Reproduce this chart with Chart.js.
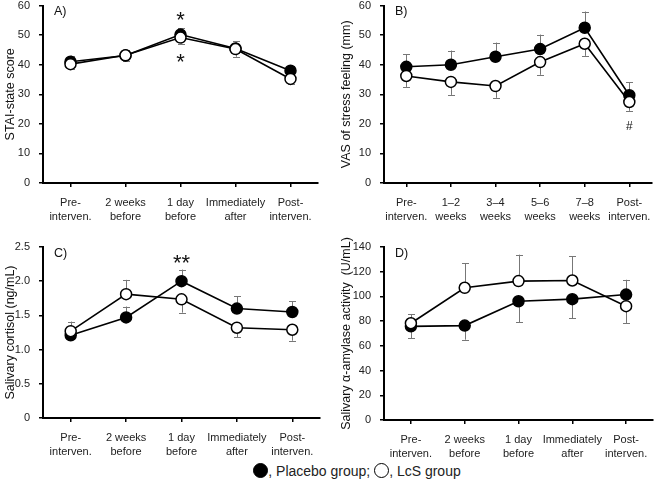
<!DOCTYPE html>
<html>
<head>
<meta charset="utf-8">
<script src="https://cdn.jsdelivr.net/npm/chart.js@4.4.0/dist/chart.umd.min.js"></script>
<style>
  body { margin: 0; background: #fff; }
  #wrap { position: relative; width: 660px; height: 484px; overflow: hidden; }
  canvas { position: absolute; }
  #legend { position: absolute; left: 54px; top: 463px; width: 606px; text-align: center;
    font: 14px "Liberation Sans", Arial, sans-serif; color: #222; }
  .dot { display: inline-block; width: 13px; height: 13px; border-radius: 50%;
    border: 1.5px solid #000; vertical-align: -2px; }
</style>
</head>
<body>
<div id="wrap">
  <canvas id="chartA" width="330" height="232" style="left:0;top:-10px"></canvas>
  <canvas id="chartB" width="330" height="232" style="left:330px;top:-10px"></canvas>
  <canvas id="chartC" width="330" height="230" style="left:0;top:230px"></canvas>
  <canvas id="chartD" width="330" height="230" style="left:330px;top:230px"></canvas>
  <div id="legend"><span class="dot" style="background:#000"></span>, Placebo group; <span class="dot" style="background:#fff"></span>, LcS group</div>
</div>
<script>
// categories
var labels5 = [['Pre-', 'interven.'], ['2 weeks', 'before'], ['1 day', 'before'], ['Immediately', 'after'], ['Post-', 'interven.']];
var labels6 = [['Pre-', 'interven.'], ['1\u20132', 'weeks'], ['3\u20134', 'weeks'], ['5\u20136', 'weeks'], ['7\u20138', 'weeks'], ['Post-', 'interven.']];

// A) STAI-state score
var staiPlacebo = [41.0, 43.1, 50.2, 45.5, 38.0];
var staiLcs = [40.2, 43.2, 49.2, 45.3, 35.2];
var staiPlaceboBar = [43.1, 45.1, 52.4, 47.9, 39.5];
var staiLcsBar = [38.5, 41.2, 47.1, 42.7, 33.4];

// B) VAS of stress feeling
var vasPlacebo = [39.3, 40.0, 42.7, 45.3, 52.5, 29.7];
var vasLcs = [36.2, 34.2, 32.8, 40.9, 47.1, 27.4];
var vasPlaceboBar = [43.5, 44.8, 47.5, 50.2, 58.0, 34.0];
var vasLcsBar = [32.5, 29.8, 28.8, 36.6, 43.0, 24.4];

// C) Salivary cortisol
var cortPlacebo = [1.21, 1.47, 2.00, 1.60, 1.55];
var cortLcs = [1.27, 1.81, 1.735, 1.32, 1.29];
var cortPlaceboBar = [null, 1.63, 2.17, 1.78, 1.71];
var cortLcsBar = [1.41, 2.02, 1.54, 1.18, 1.13];

// D) Salivary alpha-amylase
var amyPlacebo = [75.8, 76.4, 96.1, 97.8, 101.5];
var amyLcs = [78.3, 107.0, 112.4, 112.9, 92.1];
var amyPlaceboBar = [66.3, 65.0, 79.3, 82.3, 113.5];
var amyLcsBar = [85.8, 127.0, 133.8, 132.4, 78.5];

// significance marks: [category index, value, text]
var staiNotes = [[2, 56.3, '*'], [2, 41.8, '*']];
var vasNotes = [[5, 19.0, '#']];
var cortNotes = [[2, 2.31, '**']];

var FONT = '"Liberation Sans", Arial, sans-serif';

var errorBars = {
	id: 'errorBars',
	beforeDatasetsDraw: (chart) => {
		var ctx = chart.ctx;
		var x = chart.scales.x, y = chart.scales.y;
		ctx.save();
		ctx.strokeStyle = '#777';
		ctx.lineWidth = 1;
		chart.data.datasets.forEach(ds => {
			ds.data.forEach((v, i) => {
				var b = ds.bars[i];
				if (b === null || b === undefined) return;
				var px = Math.round(x.getPixelForValue(i)) + 0.5;
				var y0 = y.getPixelForValue(v), y1 = y.getPixelForValue(b);
				ctx.beginPath();
				ctx.moveTo(px, y0);
				ctx.lineTo(px, y1);
				ctx.moveTo(px - 3.5, Math.round(y1) + 0.5);
				ctx.lineTo(px + 3.5, Math.round(y1) + 0.5);
				ctx.stroke();
			});
		});
		ctx.restore();
	}
};

var marks = {
	id: 'marks',
	afterDatasetsDraw: (chart, args, opts) => {
		var ctx = chart.ctx;
		ctx.save();
		ctx.fillStyle = '#111';
		ctx.textAlign = 'left';
		ctx.textBaseline = 'top';
		ctx.font = '12.5px ' + FONT;
		ctx.fillText(opts.tag, chart.chartArea.left + 11, chart.chartArea.top);
		ctx.textAlign = 'center';
		ctx.textBaseline = 'middle';
		(opts.notes || []).forEach(n => {
			ctx.font = (n[2] === '#' ? '12px ' : '22px ') + FONT;
			var px = chart.scales.x.getPixelForValue(n[0]);
			var py = chart.scales.y.getPixelForValue(n[1]);
			ctx.fillText(n[2], px, py + (n[2] === '#' ? 0 : 4));
		});
		ctx.restore();
	}
};

window.makePanel = (id, cfg) => {
	var axisGrid = { drawOnChartArea: false, drawTicks: true, tickLength: 4, color: '#000', lineWidth: 1.5, offset: false };
	new Chart(document.getElementById(id).getContext('2d'), {
		type: 'line',
		data: {
			labels: cfg.labels,
			datasets: [
				{ label: 'Placebo group', data: cfg.placebo, bars: cfg.placeboBar, order: 2,
				  borderColor: '#000', borderWidth: 1.6, pointRadius: 5.5, pointBorderWidth: 1.5,
				  pointBackgroundColor: '#000', pointBorderColor: '#000', tension: 0 },
				{ label: 'LcS group', data: cfg.lcs, bars: cfg.lcsBar, order: 1,
				  borderColor: '#000', borderWidth: 1.6, pointRadius: 5.5, pointBorderWidth: 1.5,
				  pointBackgroundColor: '#fff', pointBorderColor: '#000', tension: 0 }
			]
		},
		options: {
			responsive: false,
			animation: false,
			layout: { padding: cfg.padding },
			plugins: {
				legend: { display: false },
				tooltip: { enabled: false },
				marks: { tag: cfg.tag, notes: cfg.notes }
			},
			scales: {
				x: {
					offset: true,
					grid: axisGrid,
					border: { color: '#000', width: 2 },
					ticks: { color: '#222', font: { family: FONT, size: 11, lineHeight: 1.3 }, padding: 9, maxRotation: 0, autoSkip: false },
					afterFit: s => { s.height = cfg.xHeight; }
				},
				y: {
					min: 0, max: cfg.max,
					grid: axisGrid,
					border: { color: '#000', width: 2 },
					ticks: { stepSize: cfg.step, color: '#222', font: { family: FONT, size: 11 }, padding: 9,
						callback: v => cfg.step < 1 && v !== 0 ? v.toFixed(1) : v },
					title: { display: true, text: cfg.title, color: '#111', font: { family: FONT, size: 12.5 }, padding: 3 },
					afterFit: s => { s.width = cfg.yWidth; }
				}
			}
		},
		plugins: [errorBars, marks]
	});
}

makePanel('chartA', { labels: labels5, placebo: staiPlacebo, lcs: staiLcs, placeboBar: staiPlaceboBar, lcsBar: staiLcsBar,
	max: 60, step: 10, title: 'STAI-state score', tag: 'A)', notes: staiNotes,
	padding: { left: 0, top: 15, right: 12, bottom: 0 }, yWidth: 43, xHeight: 39 });
makePanel('chartB', { labels: labels6, placebo: vasPlacebo, lcs: vasLcs, placeboBar: vasPlaceboBar, lcsBar: vasLcsBar,
	max: 60, step: 10, title: 'VAS of stress feeling (mm)', tag: 'B)', notes: vasNotes,
	padding: { left: 6, top: 15, right: 2, bottom: 0 }, yWidth: 48, xHeight: 39 });
makePanel('chartC', { labels: labels5, placebo: cortPlacebo, lcs: cortLcs, placeboBar: cortPlaceboBar, lcsBar: cortLcsBar,
	max: 2.5, step: 0.5, title: 'Salivary cortisol (ng/mL)', tag: 'C)', notes: cortNotes,
	padding: { left: 0, top: 17, right: 10, bottom: 0 }, yWidth: 43, xHeight: 42 });
makePanel('chartD', { labels: labels5, placebo: amyPlacebo, lcs: amyLcs, placeboBar: amyPlaceboBar, lcsBar: amyLcsBar,
	max: 140, step: 20, title: 'Salivary \u03b1-amylase activity  (U/mL)', tag: 'D)', notes: [],
	padding: { left: 6, top: 17, right: 2, bottom: 0 }, yWidth: 48, xHeight: 40 });
</script>
</body>
</html>
